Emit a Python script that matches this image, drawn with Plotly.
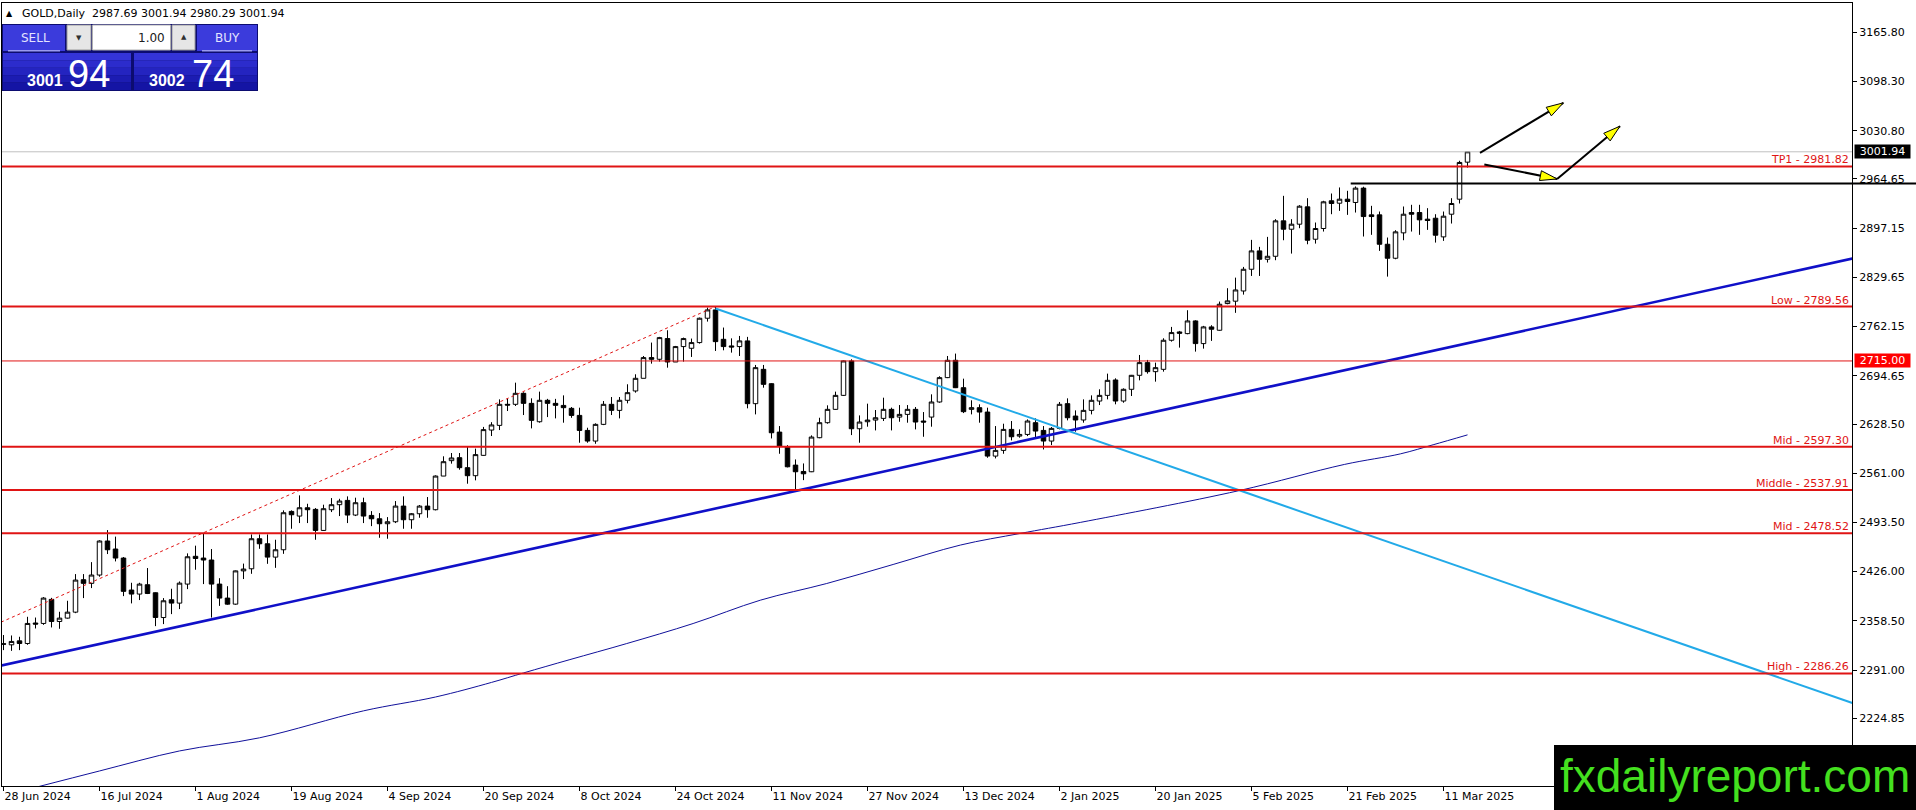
import math
import pandas as pd
import plotly.graph_objects as go

# ---------------- data ----------------
holidays = ["2024-12-25", "2025-01-01"]
dates = [d for d in pd.bdate_range("2024-06-28", "2025-03-14") if d.strftime("%Y-%m-%d") not in holidays]

opens = [
    2327.0, 2325.6, 2331.0, 2327.4, 2355.5, 2354.9, 2387.9, 2357.6, 2362.2, 2370.4,
    2414.9, 2409.9, 2421.3, 2468.0, 2457.0, 2444.6, 2400.7, 2395.2, 2408.0, 2397.0,
    2363.0, 2387.4, 2382.8, 2408.9, 2447.0, 2444.6, 2441.9, 2408.9, 2389.7, 2381.4,
    2427.0, 2429.9, 2471.1, 2464.2, 2445.9, 2456.0, 2508.6, 2502.2, 2513.6, 2511.4,
    2482.5, 2510.9, 2517.8, 2523.7, 2503.6, 2520.5, 2503.1, 2498.5, 2491.7, 2494.4,
    2515.9, 2497.2, 2505.4, 2515.9, 2510.9, 2557.1, 2578.2, 2582.3, 2568.6, 2557.6,
    2585.5, 2620.2, 2626.6, 2655.5, 2655.5, 2670.6, 2656.8, 2631.6, 2661.0, 2656.8,
    2654.0, 2650.0, 2640.3, 2619.7, 2605.1, 2628.0, 2655.5, 2647.2, 2661.0, 2673.8,
    2691.2, 2719.6, 2717.3, 2745.7, 2713.6, 2734.7, 2732.4, 2740.2, 2773.6, 2785.0,
    2744.7, 2735.6, 2734.7, 2742.5, 2656.4, 2703.5, 2683.8, 2617.4, 2597.3, 2572.1,
    2563.4, 2563.0, 2609.7, 2630.3, 2648.6, 2667.8, 2715.0, 2622.0, 2631.6, 2633.9,
    2636.2, 2648.6, 2638.0, 2641.7, 2648.6, 2632.6, 2638.0, 2658.7, 2692.1, 2715.9,
    2678.3, 2648.6, 2650.9, 2644.9, 2584.5, 2592.3, 2621.1, 2611.9, 2614.2, 2630.3,
    2619.7, 2605.1, 2622.5, 2656.4, 2639.4, 2634.0, 2647.2, 2660.0, 2667.8, 2688.9,
    2660.0, 2676.1, 2695.3, 2712.7, 2700.3, 2703.5, 2743.4, 2754.8, 2752.5, 2769.9,
    2738.8, 2761.7, 2757.1, 2793.7, 2797.0, 2811.0, 2840.8, 2866.0, 2854.5, 2858.6,
    2907.2, 2895.7, 2902.6, 2926.4, 2882.0, 2896.7, 2934.7, 2931.4, 2936.9, 2932.4,
    2952.1, 2915.4, 2915.4, 2875.1, 2855.9, 2890.7, 2918.6, 2918.6, 2909.5, 2910.8,
    2885.2, 2916.3, 2936.9, 2987.69]

highs = [
    2339.0, 2338.4, 2336.6, 2364.0, 2363.0, 2391.0, 2390.0, 2370.9, 2386.0, 2422.6,
    2422.6, 2439.0, 2469.0, 2483.0, 2474.0, 2446.0, 2410.7, 2410.7, 2430.9, 2397.5,
    2389.7, 2402.5, 2412.5, 2451.0, 2461.6, 2478.5, 2457.0, 2417.0, 2406.0, 2427.5,
    2437.0, 2477.0, 2477.0, 2477.0, 2469.7, 2510.0, 2510.0, 2530.6, 2519.1, 2513.2,
    2517.8, 2526.9, 2525.9, 2529.2, 2527.4, 2527.4, 2509.0, 2506.3, 2500.8, 2522.8,
    2529.2, 2506.3, 2517.3, 2528.3, 2558.0, 2584.2, 2588.7, 2588.7, 2597.0, 2594.7,
    2624.5, 2631.0, 2662.3, 2663.7, 2685.2, 2672.0, 2663.7, 2672.9, 2663.0, 2663.0,
    2667.8, 2651.8, 2650.9, 2623.4, 2629.4, 2660.0, 2665.5, 2665.5, 2683.0, 2696.7,
    2721.8, 2740.2, 2748.0, 2757.1, 2735.6, 2747.0, 2745.7, 2774.5, 2788.2, 2789.56,
    2760.8, 2746.0, 2749.3, 2748.0, 2709.5, 2709.5, 2684.5, 2625.7, 2599.5, 2579.9,
    2574.4, 2612.9, 2637.1, 2654.1, 2672.9, 2715.5, 2717.3, 2640.3, 2656.4, 2647.7,
    2664.6, 2650.9, 2654.5, 2654.5, 2651.8, 2644.9, 2669.2, 2694.0, 2721.8, 2725.1,
    2690.7, 2661.0, 2655.5, 2650.9, 2625.7, 2628.9, 2632.6, 2621.1, 2634.8, 2636.2,
    2625.7, 2624.3, 2658.7, 2663.7, 2647.2, 2662.3, 2667.8, 2676.1, 2697.6, 2691.2,
    2677.4, 2695.8, 2723.2, 2716.4, 2712.7, 2746.1, 2761.7, 2756.2, 2784.6, 2770.8,
    2763.1, 2764.0, 2796.5, 2814.8, 2829.3, 2844.0, 2881.1, 2871.5, 2885.2, 2909.5,
    2941.5, 2909.5, 2928.7, 2938.3, 2904.9, 2934.7, 2944.7, 2953.0, 2948.4, 2954.4,
    2954.0, 2927.8, 2920.0, 2884.3, 2894.4, 2926.9, 2929.2, 2929.2, 2924.6, 2916.3,
    2920.0, 2938.3, 2989.6, 3001.94]

lows = [
    2318.3, 2317.3, 2318.3, 2325.6, 2348.0, 2353.0, 2349.4, 2347.6, 2361.5, 2369.0,
    2389.7, 2403.4, 2419.0, 2450.1, 2440.0, 2392.4, 2382.4, 2387.0, 2395.2, 2351.2,
    2354.0, 2367.7, 2374.6, 2402.0, 2428.6, 2408.9, 2363.0, 2379.0, 2380.5, 2380.5,
    2415.8, 2423.0, 2457.3, 2436.7, 2431.2, 2450.4, 2484.8, 2492.6, 2492.6, 2469.7,
    2482.0, 2507.7, 2502.2, 2492.6, 2502.2, 2492.6, 2488.4, 2472.4, 2471.1, 2492.6,
    2484.8, 2484.8, 2499.9, 2499.9, 2510.0, 2557.0, 2574.1, 2565.8, 2546.6, 2551.2,
    2585.0, 2612.0, 2620.2, 2646.3, 2653.2, 2640.8, 2622.5, 2630.3, 2638.0, 2636.2,
    2630.3, 2637.0, 2602.8, 2602.8, 2601.4, 2627.0, 2640.8, 2636.2, 2656.8, 2671.5,
    2691.2, 2711.3, 2714.1, 2705.8, 2713.6, 2714.1, 2720.5, 2738.8, 2769.0, 2728.7,
    2729.6, 2726.4, 2721.8, 2650.0, 2641.7, 2678.3, 2608.7, 2587.7, 2569.0, 2536.4,
    2551.5, 2562.5, 2609.0, 2628.9, 2648.0, 2666.9, 2613.3, 2602.8, 2624.8, 2619.7,
    2632.6, 2619.7, 2631.6, 2630.3, 2621.1, 2611.0, 2624.8, 2657.7, 2691.5, 2677.8,
    2643.5, 2641.7, 2630.3, 2582.2, 2581.3, 2587.7, 2606.0, 2609.7, 2611.9, 2608.7,
    2593.6, 2599.6, 2621.1, 2633.5, 2617.9, 2630.3, 2641.7, 2654.5, 2662.3, 2655.5,
    2657.7, 2666.9, 2688.4, 2697.6, 2686.6, 2700.3, 2741.5, 2733.3, 2751.6, 2727.8,
    2731.9, 2742.5, 2756.5, 2792.8, 2781.0, 2806.0, 2831.6, 2831.6, 2850.0, 2853.2,
    2880.6, 2862.3, 2897.1, 2875.1, 2876.0, 2892.5, 2916.3, 2920.9, 2915.4, 2918.6,
    2885.7, 2888.0, 2866.0, 2830.7, 2854.5, 2880.6, 2892.5, 2888.0, 2894.8, 2877.4,
    2879.7, 2903.5, 2931.0, 2980.29]

closes = [
    2326.5, 2330.2, 2327.4, 2354.9, 2354.0, 2389.7, 2357.6, 2362.2, 2370.4, 2414.4,
    2409.9, 2421.3, 2468.0, 2456.0, 2444.6, 2398.9, 2395.2, 2408.9, 2396.0, 2363.1,
    2386.0, 2382.8, 2410.2, 2446.4, 2444.0, 2441.9, 2408.9, 2389.7, 2381.4, 2427.0,
    2429.5, 2471.1, 2464.2, 2445.9, 2456.0, 2506.8, 2504.0, 2513.6, 2510.9, 2482.5,
    2512.3, 2517.8, 2522.8, 2503.6, 2520.5, 2502.2, 2498.5, 2491.7, 2494.4, 2515.9,
    2497.2, 2505.4, 2515.9, 2510.9, 2557.1, 2576.8, 2581.9, 2568.6, 2557.6, 2586.5,
    2620.8, 2627.2, 2655.5, 2654.5, 2670.6, 2656.8, 2633.5, 2661.0, 2656.8, 2654.1,
    2650.9, 2640.3, 2619.7, 2605.1, 2628.0, 2655.5, 2647.2, 2661.0, 2671.5, 2691.2,
    2719.6, 2717.3, 2747.0, 2713.6, 2734.7, 2745.7, 2740.2, 2773.6, 2785.0, 2741.5,
    2734.7, 2734.2, 2742.5, 2656.4, 2705.8, 2682.9, 2616.5, 2598.2, 2569.8, 2563.0,
    2560.2, 2610.6, 2630.3, 2648.6, 2667.8, 2715.0, 2622.0, 2631.2, 2633.9, 2637.1,
    2648.6, 2637.1, 2641.7, 2648.6, 2631.2, 2631.2, 2658.7, 2692.1, 2715.9, 2678.3,
    2645.4, 2650.9, 2644.9, 2584.5, 2592.3, 2621.1, 2611.0, 2614.2, 2632.6, 2618.8,
    2605.1, 2622.5, 2655.5, 2637.1, 2634.0, 2647.2, 2661.0, 2667.8, 2688.4, 2660.0,
    2676.1, 2695.3, 2712.7, 2700.3, 2705.8, 2743.4, 2753.9, 2753.0, 2769.9, 2738.8,
    2761.7, 2758.5, 2792.8, 2797.4, 2812.4, 2840.8, 2866.0, 2854.5, 2858.6, 2907.2,
    2895.7, 2902.6, 2927.3, 2880.6, 2896.7, 2933.3, 2931.0, 2936.9, 2933.7, 2952.1,
    2913.1, 2913.1, 2875.1, 2855.9, 2892.1, 2916.3, 2916.3, 2908.6, 2907.7, 2887.5,
    2913.6, 2931.0, 2987.3, 3001.94]

# moving average (thin navy line), sampled at bar positions
ma_bars = [4, 12, 22, 32, 45, 54, 61, 65, 70.8, 77.9, 86.2, 94.6, 102.9, 111.2, 119.6,
           127.1, 134.6, 154.4, 167.6, 174.6, 178.7, 183]
ma_vals = [2130.0, 2152.5, 2180.0, 2198.0, 2235.0, 2254.0, 2274.0, 2287.0, 2305.3, 2327.3,
           2354.8, 2386.8, 2409.7, 2435.8, 2462.4, 2478.4, 2493.5, 2537.0, 2573.0, 2587.5,
           2600.0, 2613.6]

# trend lines (bar index, price)
support_bars = [-1, 232]
support_prices = [2295.4, 2857.6]
resist_bars = [89, 232]
resist_prices = [2787.0, 2242.3]
channel_bars = [-1, 89]
channel_prices = [2353.3, 2789.56]

# horizontal levels
level_names = ["TP1", "Low", "Mid", "Middle", "Mid", "High"]
level_prices = [2981.82, 2789.56, 2597.30, 2537.91, 2478.52, 2286.26]
thin_level = 2715.00
black_level = 2958.5
black_level_start = 168.4
last_price = 3001.94

# arrows (bar index, price)
arrow_a = [(184.56, 3000.4), (194.98, 3069.1)]
arrow_b = [(185.1, 2984.5), (194.2, 2964.7), (202.06, 3037.1)]

# axis ticks
y_ticks = [3165.80, 3098.30, 3030.80, 2964.65, 2897.15, 2829.65, 2762.15, 2694.65,
           2628.50, 2561.00, 2493.50, 2426.00, 2358.50, 2291.00, 2224.85]
date_tick_labels = ["28 Jun 2024", "16 Jul 2024", "1 Aug 2024", "19 Aug 2024", "4 Sep 2024",
                    "20 Sep 2024", "8 Oct 2024", "24 Oct 2024", "11 Nov 2024", "27 Nov 2024",
                    "13 Dec 2024", "2 Jan 2025", "20 Jan 2025", "5 Feb 2025", "21 Feb 2025",
                    "11 Mar 2025"]

header_text = "GOLD,Daily\u00a0\u00a02987.69 3001.94 2980.29 3001.94"
sell_big, sell_small = "94", "3001"
buy_big, buy_small = "74", "3002"
lot_text = "1.00"

# ---------------- layout geometry ----------------
W, H = 1916, 810
L, R, T, B = 2, 1852, 3, 786
x_range = [-0.1875, 231.06]
y_range = [2131.9, 3206.05]
sx = (R - L) / (x_range[1] - x_range[0])   # px per bar
sy = (B - T) / (y_range[1] - y_range[0])   # px per price unit


def fx(px):
    return (px - L) / (R - L)


def fy(py):
    return (B - py) / (B - T)


def bar_to_paper(b):
    return (b - x_range[0]) / (x_range[1] - x_range[0])


def price_to_paper(p):
    return (p - y_range[0]) / (y_range[1] - y_range[0])


FONT = "DejaVu Sans"
RED = "#e01414"
bars = list(range(len(dates)))

fig = go.Figure()

fig.add_trace(go.Candlestick(
    x=bars, open=opens, high=highs, low=lows, close=closes,
    increasing=dict(line=dict(color="black", width=1), fillcolor="white"),
    decreasing=dict(line=dict(color="black", width=1), fillcolor="black"),
    whiskerwidth=0, hoverinfo="skip", showlegend=False))

fig.add_trace(go.Scatter(x=ma_bars, y=ma_vals, mode="lines", line_shape="spline",
                         line=dict(color="#10109a", width=1), hoverinfo="skip", showlegend=False))
fig.add_trace(go.Scatter(x=channel_bars, y=channel_prices, mode="lines",
                         line=dict(color=RED, width=1, dash="dot"), hoverinfo="skip", showlegend=False))
fig.add_trace(go.Scatter(x=support_bars, y=support_prices, mode="lines",
                         line=dict(color="#1010c8", width=2.6), hoverinfo="skip", showlegend=False))
fig.add_trace(go.Scatter(x=resist_bars, y=resist_prices, mode="lines",
                         line=dict(color="#22aae8", width=2), hoverinfo="skip", showlegend=False))

shapes = []
annotations = []

# current price gray line
shapes.append(dict(type="line", xref="paper", yref="y", x0=0, x1=1, y0=last_price, y1=last_price,
                   line=dict(color="#c0c0c0", width=1), layer="above"))
# red levels
for name, p in zip(level_names, level_prices):
    shapes.append(dict(type="line", xref="paper", yref="y", x0=0, x1=1, y0=p, y1=p,
                       line=dict(color=RED, width=2), layer="above"))
    annotations.append(dict(xref="paper", yref="y", x=1, y=p, xanchor="right", yanchor="bottom",
                            xshift=-2, yshift=-1, text=f"{name} - {p:.2f}", showarrow=False,
                            borderpad=0, font=dict(family=FONT, size=11, color=RED)))
shapes.append(dict(type="line", xref="paper", yref="y", x0=0, x1=1, y0=thin_level, y1=thin_level,
                   line=dict(color=RED, width=1), layer="above"))
# black level extending over the axis
shapes.append(dict(type="line", xref="paper", yref="paper",
                   x0=bar_to_paper(black_level_start), x1=fx(W),
                   y0=price_to_paper(black_level), y1=price_to_paper(black_level),
                   line=dict(color="black", width=2), layer="above"))


# arrows
def add_head(frm, tip):
    dx = (tip[0] - frm[0]) * sx
    dy = (tip[1] - frm[1]) * sy
    n = math.hypot(dx, dy)
    ux, uy = dx / n, dy / n
    hl, hw = 17.0, 5.0
    bx, by = -ux * hl, -uy * hl
    p1 = (tip[0] + (bx - uy * hw) / sx, tip[1] + (by + ux * hw) / sy)
    p2 = (tip[0] + (bx + uy * hw) / sx, tip[1] + (by - ux * hw) / sy)
    path = f"M {tip[0]},{tip[1]} L {p1[0]},{p1[1]} L {p2[0]},{p2[1]} Z"
    shapes.append(dict(type="path", xref="x", yref="y", path=path, fillcolor="#ffff00",
                       line=dict(color="black", width=1), layer="above"))


for pts in (arrow_a, arrow_b):
    for a, b in zip(pts[:-1], pts[1:]):
        shapes.append(dict(type="line", xref="x", yref="y", x0=a[0], y0=a[1], x1=b[0], y1=b[1],
                           line=dict(color="black", width=2), layer="above"))
    for a, b in zip(pts[:-1], pts[1:]):
        add_head(a, b)

# axis price boxes
annotations.append(dict(xref="paper", yref="y", x=1, y=last_price, xanchor="left", yanchor="middle",
                        xshift=2, text=f"{last_price:.2f}", showarrow=False, bgcolor="black",
                        width=55, height=13, borderpad=0,
                        font=dict(family=FONT, size=11, color="white")))
annotations.append(dict(xref="paper", yref="y", x=1, y=thin_level, xanchor="left", yanchor="middle",
                        xshift=2, text=f"{thin_level:.2f}", showarrow=False, bgcolor="#ff0000",
                        width=55, height=13, borderpad=0,
                        font=dict(family=FONT, size=11, color="white")))

# header
annotations.append(dict(xref="paper", yref="paper", x=fx(9), y=fy(13), xanchor="center", yanchor="middle",
                        text="▲", showarrow=False, font=dict(family=FONT, size=8, color="black")))
annotations.append(dict(xref="paper", yref="paper", x=fx(20), y=fy(13), xanchor="left", yanchor="middle",
                        text=header_text, showarrow=False, font=dict(family=FONT, size=11, color="black")))


# trade panel
def prect(x0, y0, x1, y1, fill, line_color=None, lw=0):
    shapes.append(dict(type="rect", xref="paper", yref="paper", x0=fx(x0), x1=fx(x1), y0=fy(y1), y1=fy(y0),
                       fillcolor=fill, line=dict(color=line_color or fill, width=lw), layer="above"))


prect(2, 24, 258, 91, "#0c0c70")
prect(3, 25, 65, 51, "#3b3bdc")
prect(197, 25, 257, 51, "#3b3bdc")
prect(8, 50, 60, 51.5, "#9a9af0")
prect(202, 50, 252, 51.5, "#9a9af0")
prect(67, 25, 91, 50, "#e6e6e6", "#9a9a9a", 1)
prect(172, 25, 195, 50, "#e6e6e6", "#9a9a9a", 1)
prect(92.5, 25, 170.5, 50, "#ffffff", "#b0b0b0", 1)
bands = ["#3434d8", "#2c2ccc", "#2424c0", "#1c1cb2", "#1414a4"]
for i, c in enumerate(bands):
    y0 = 53 + i * 37 / len(bands)
    y1 = 53 + (i + 1) * 37 / len(bands)
    prect(3, y0, 131, y1, c)
    prect(134, y0, 257, y1, c)


def ptext(x, y, text, size, color, xanchor="center", family=FONT, weight="normal"):
    annotations.append(dict(xref="paper", yref="paper", x=fx(x), y=fy(y), xanchor=xanchor, yanchor="middle",
                            text=text, showarrow=False,
                            font=dict(family=family, size=size, color=color, weight=weight)))


ptext(35, 38, "SELL", 12, "#e4e4ff")
ptext(227, 38, "BUY", 12, "#e4e4ff")
ptext(79, 38, "▼", 7, "#303030")
ptext(183.5, 37, "▲", 7, "#303030")
ptext(167, 37.5, lot_text, 12, "#202020", xanchor="right")
ptext(65, 81, sell_small, 16, "white", xanchor="right", family="Liberation Sans", weight="bold")
ptext(66, 74, sell_big, 38, "white", xanchor="left", family="Liberation Sans")
ptext(187, 81, buy_small, 16, "white", xanchor="right", family="Liberation Sans", weight="bold")
ptext(190, 74, buy_big, 38, "white", xanchor="left", family="Liberation Sans")

# watermark
shapes.append(dict(type="rect", xref="paper", yref="paper", x0=fx(1554), x1=fx(W), y0=fy(H), y1=fy(745),
                   fillcolor="black", line=dict(color="black", width=0), layer="above"))
ptext(1735, 776, "fxdailyreport.com", 46, "#44e01f", family="Liberation Sans Narrow, Liberation Sans")

date_tick_vals = [dates.index(pd.to_datetime(s, format="%d %b %Y")) for s in date_tick_labels]

fig.update_layout(
    width=W, height=H,
    margin=dict(l=L, r=W - R, t=T, b=H - B, pad=0),
    paper_bgcolor="white", plot_bgcolor="white",
    showlegend=False, boxgap=0.25, boxgroupgap=0.25,
    shapes=shapes, annotations=annotations,
    xaxis=dict(range=x_range, rangeslider=dict(visible=False), tickmode="array",
               tickvals=date_tick_vals, ticktext=date_tick_labels, ticks="outside", ticklen=4,
               tickcolor="black", ticklabelposition="outside right", showgrid=False, zeroline=False,
               showline=True, linecolor="black", linewidth=1, mirror=True, automargin=False,
               tickfont=dict(family=FONT, size=11, color="black")),
    yaxis=dict(range=y_range, side="right", tickmode="array", tickvals=y_ticks,
               ticktext=[f"{v:.2f}" for v in y_ticks], ticks="outside", ticklen=4, tickcolor="black",
               showgrid=False, zeroline=False, showline=True, linecolor="black", linewidth=1,
               mirror=True, automargin=False, tickfont=dict(family=FONT, size=11, color="black")),
)

fig.write_html("out.html", config={"displayModeBar": False},
               post_script="document.body.style.margin='0px';document.body.style.overflow='hidden';")
